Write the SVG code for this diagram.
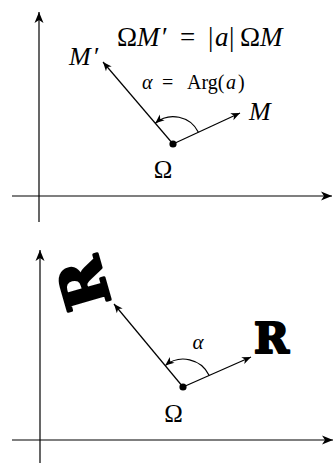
<svg xmlns="http://www.w3.org/2000/svg" width="335" height="464" viewBox="0 0 335 464">
<style>
.ax{stroke:#000;stroke-width:1.2;fill:none}
.ln{stroke:#000;stroke-width:1.2;fill:none}
.m{font-family:"Liberation Serif","DejaVu Serif",serif;fill:#000}
.i{font-style:italic}
.R{font-family:"DejaVu Serif",serif;font-weight:bold;fill:#000;stroke:#000;stroke-linejoin:round}
</style>
<defs>
<marker id="ah" viewBox="-10 -5 12 10" refX="0" refY="0" markerWidth="12" markerHeight="10" markerUnits="userSpaceOnUse" orient="auto">
<path d="M0,0 L-9,-3.8 L-6.5,0 L-9,3.8 z" fill="#000"/>
</marker>
<marker id="axh" viewBox="-12 -6 14 12" refX="0" refY="0" markerWidth="14" markerHeight="12" markerUnits="userSpaceOnUse" orient="auto">
<path d="M0,0 L-11,-4.5 L-8,0 L-11,4.5 z" fill="#000"/>
</marker>
</defs>
<g id="connectors">
<line class="ax" x1="39" y1="222" x2="39" y2="12" marker-end="url(#axh)"/>
<line class="ax" x1="12" y1="196" x2="332" y2="196" marker-end="url(#axh)"/>
<line class="ln" x1="173" y1="144" x2="240" y2="113" marker-end="url(#ah)"/>
<line class="ln" x1="173" y1="144" x2="103" y2="62" marker-end="url(#ah)"/>
<path class="ln" d="M198.4,132.3 A28,28 0 0 0 155.3,123.2" marker-end="url(#ah)"/>
<line class="ax" x1="40" y1="463" x2="40" y2="250" marker-end="url(#axh)"/>
<line class="ax" x1="12" y1="440" x2="333" y2="440" marker-end="url(#axh)"/>
<line class="ln" x1="183" y1="387" x2="251" y2="357" marker-end="url(#ah)"/>
<line class="ln" x1="183" y1="387" x2="114" y2="304" marker-end="url(#ah)"/>
<path class="ln" d="M209.2,375.5 A28.6,28.6 0 0 0 165.2,365.6" marker-end="url(#ah)"/>
</g>
<g id="omega1"><circle cx="173" cy="144" r="3.6" fill="#000"/><text class="m" x="163" y="178" font-size="25" text-anchor="middle">Ω</text></g>
<g id="M"><text class="m i" x="249" y="120" font-size="26">M</text></g>
<g id="Mp"><text class="m" y="65" font-size="26"><tspan class="i" x="69">M</tspan><tspan x="94">′</tspan></text></g>
<g id="formula"><text class="m" y="46" font-size="27"><tspan x="117">Ω</tspan><tspan class="i" x="137">M</tspan><tspan x="162">′</tspan><tspan x="180">=</tspan><tspan x="208">|</tspan><tspan class="i" x="215">a</tspan><tspan x="229">|</tspan><tspan x="240">Ω</tspan><tspan class="i" x="260">M</tspan></text></g>
<g id="alphaeq"><text class="m" y="89" font-size="20"><tspan class="i" x="142">α</tspan><tspan x="162">=</tspan><tspan x="187">Arg(</tspan><tspan class="i" x="226">a</tspan><tspan x="238">)</tspan></text></g>
<g id="omega2"><circle cx="183" cy="387" r="3.6" fill="#000"/><text class="m" x="173.5" y="422" font-size="25" text-anchor="middle">Ω</text></g>
<g id="alpha2"><text class="m i" x="198" y="349" font-size="21" text-anchor="middle">α</text></g>
<g id="R"><text class="R" x="254" y="353" font-size="42" stroke-width="2.2">R</text></g>
<g id="Rrot"><text class="R" x="0" y="22" font-size="60" stroke-width="3" text-anchor="middle" transform="translate(83,284) rotate(-106)">R</text></g>
</svg>
